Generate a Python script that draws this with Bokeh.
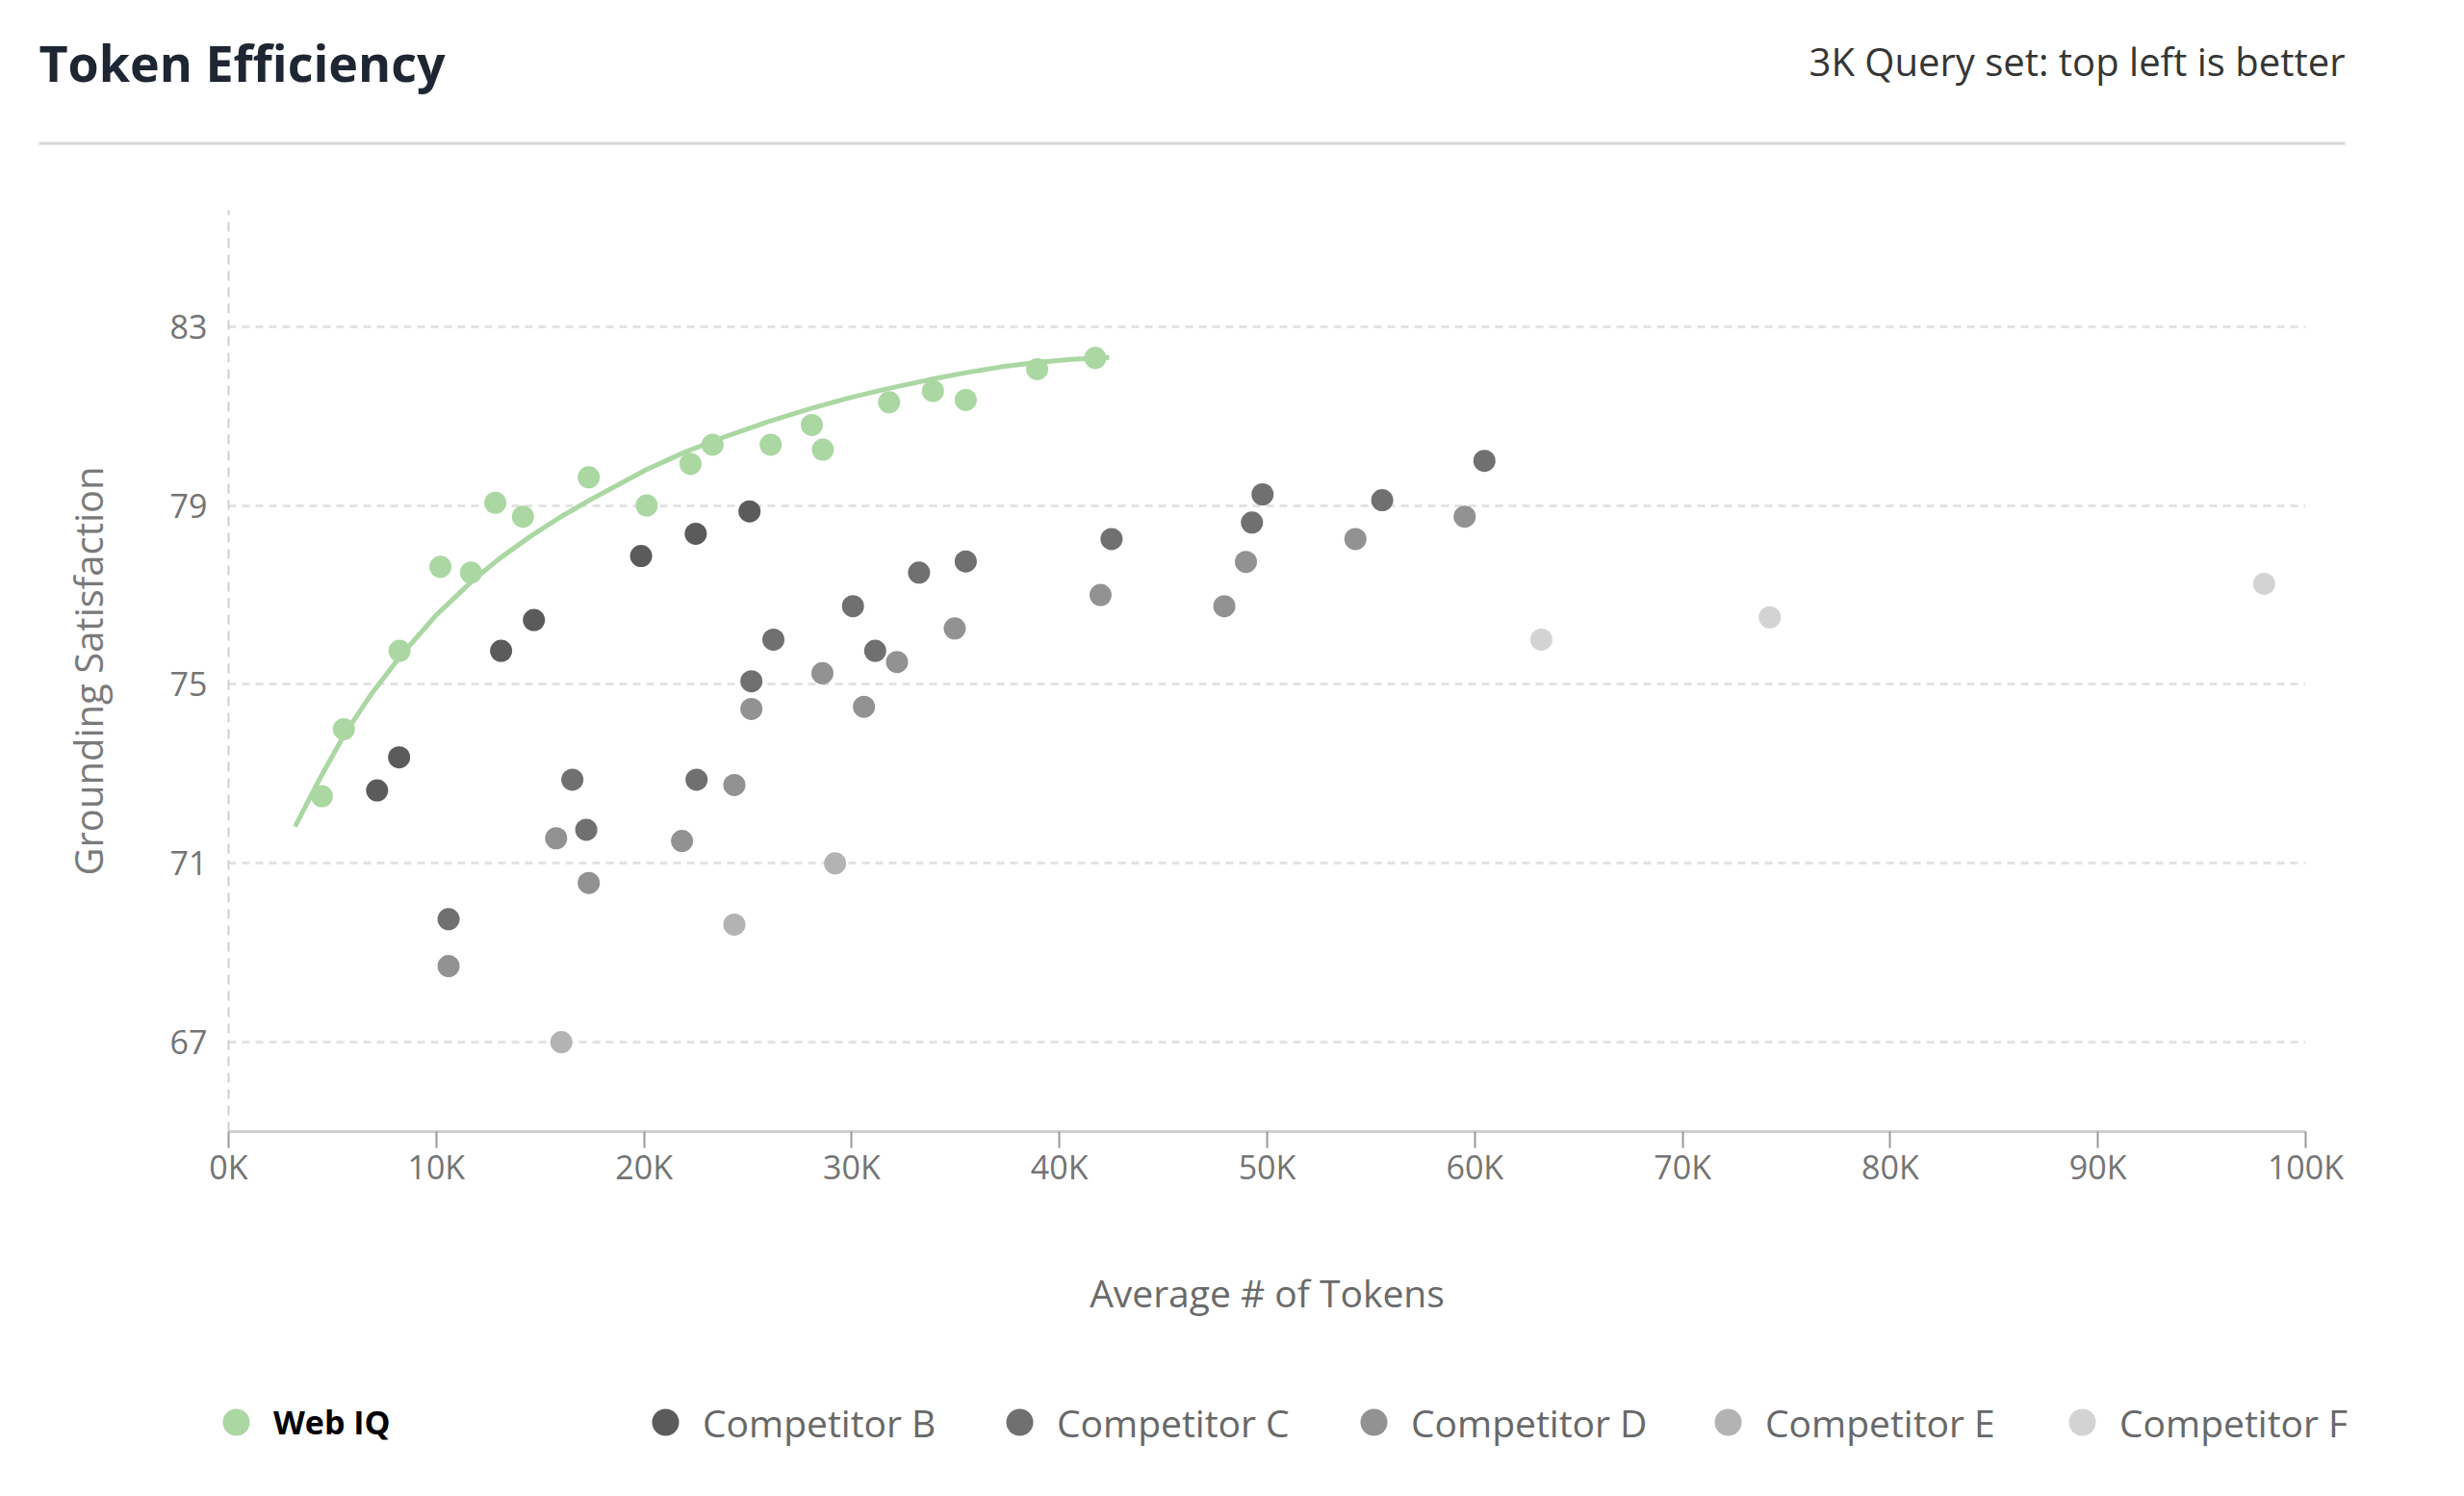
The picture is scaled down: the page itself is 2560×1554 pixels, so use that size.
from bokeh.plotting import figure
from bokeh.layouts import column
from bokeh.models import (Range1d, FixedTicker, PrintfTickFormatter, Legend,
                          LegendItem, Label, BoxAnnotation)
from bokeh.embed import file_html
from bokeh.resources import INLINE

# ---------------- data (tokens in thousands, grounding satisfaction) ----------------
webiq_tokens_k = [4.49, 5.55, 8.23, 10.2, 11.67, 12.84, 14.17, 17.34, 20.13, 22.24,
                  23.3, 26.1, 28.08, 28.61, 31.8, 33.91, 35.49, 38.93, 41.73]
webiq_score = [72.5, 74.0, 75.75, 77.63, 77.5, 79.06, 78.75, 79.63, 79.0, 79.93,
               80.36, 80.36, 80.8, 80.25, 81.31, 81.56, 81.36, 82.05, 82.3]

trend_tokens_k = [3.2, 4.4, 5.6, 6.9, 8.3, 10.0, 11.7, 13.0, 14.5, 16.0, 17.5, 20.1,
                  22.0, 23.8, 26.0, 28.1, 30.0, 31.8, 33.7, 35.5, 37.2, 38.9, 40.6, 42.4]
trend_score = [71.82, 72.9, 73.9, 74.8, 75.65, 76.55, 77.3, 77.8, 78.3, 78.75, 79.15, 79.8,
               80.2, 80.52, 80.88, 81.18, 81.42, 81.62, 81.81, 81.97, 82.1, 82.2, 82.27, 82.31]

comp_b_tokens_k = [7.15, 8.21, 13.12, 14.7, 19.86, 22.49, 25.08]
comp_b_score = [72.63, 73.37, 75.75, 76.44, 77.87, 78.37, 78.87]

comp_c_tokens_k = [10.59, 16.55, 17.22, 22.53, 25.17, 26.23, 30.06, 31.13, 33.24, 35.49,
                   42.51, 49.27, 49.78, 55.54, 60.46]
comp_c_score = [69.75, 72.87, 71.75, 72.87, 75.07, 76.0, 76.75, 75.75, 77.5, 77.75,
                78.25, 78.62, 79.25, 79.12, 80.0]

comp_d_tokens_k = [10.59, 15.77, 17.34, 21.83, 24.35, 25.17, 28.59, 30.59, 32.18, 34.96,
                   41.98, 47.94, 48.98, 54.25, 59.51]
comp_d_score = [68.7, 71.56, 70.56, 71.5, 72.75, 74.45, 75.25, 74.5, 75.5, 76.25,
                77.0, 76.75, 77.74, 78.25, 78.75]

comp_e_tokens_k = [16.02, 24.35, 29.2]
comp_e_score = [67.0, 69.63, 71.0]

comp_f_tokens_k = [63.2, 74.2, 98.0]
comp_f_score = [76.0, 76.5, 77.25]

x_ticks_k = [0, 10, 20, 30, 40, 50, 60, 70, 80, 90, 100]
y_ticks = [67, 71, 75, 79, 83]

series_labels = ["Web IQ", "Competitor B", "Competitor C", "Competitor D",
                 "Competitor E", "Competitor F"]
chart_title = "Token Efficiency"
chart_subtitle = "3K Query set: top left is better"

# ---------------- styling ----------------
FONT = "Open Sans"
GREEN = "#aad7a2"
GRAYS = ["#5b5b5b", "#707070", "#929292", "#b3b3b3", "#d3d3d3"]
W = 2500


def no_frame_align(fig):
    if "frame_align" in type(fig).properties():
        fig.frame_align = False


# ---------------- header ----------------
hdr = figure(width=W, height=180, output_backend="svg", toolbar_location=None,
             title=None, x_range=Range1d(0, W), y_range=Range1d(180, 0),
             x_axis_location=None, y_axis_location=None, min_border=0)
no_frame_align(hdr)
hdr.grid.visible = False
hdr.outline_line_color = None
hdr.add_layout(Label(x=40, y=64, text=chart_title, text_font=FONT,
                     text_font_size="52px", text_font_style="bold",
                     text_color="#1e2633", text_align="left",
                     text_baseline="alphabetic"))
hdr.add_layout(Label(x=2436, y=63, text=chart_subtitle, text_font=FONT,
                     text_font_size="40px", text_color="#363636",
                     text_align="right", text_baseline="alphabetic"))
hdr.add_layout(BoxAnnotation(left=40, right=2436, top=147, bottom=150,
                             fill_color="#d6d6d6", fill_alpha=1.0, line_color=None))

# ---------------- main plot ----------------
p = figure(width=W, height=1242, output_backend="svg", toolbar_location=None,
           title=None, x_range=Range1d(0, 100), y_range=Range1d(65, 85.6),
           min_border_left=237, min_border_right=W - 2395,
           min_border_top=38, min_border_bottom=247)
no_frame_align(p)
p.outline_line_color = None
p.background_fill_color = "white"
p.border_fill_color = "white"

p.xaxis.ticker = FixedTicker(ticks=x_ticks_k)
p.xaxis.formatter = PrintfTickFormatter(format="%dK")
p.yaxis.ticker = FixedTicker(ticks=y_ticks)

p.xaxis.axis_label = "Average # of Tokens"
p.yaxis.axis_label = "Grounding Satisfaction"
for ax in (p.xaxis, p.yaxis):
    ax.axis_label_text_font = FONT
    ax.axis_label_text_font_style = "normal"
    ax.axis_label_text_color = "#6a6a6a"
    ax.major_label_text_font = FONT
    ax.major_label_text_font_size = "34px"
    ax.major_label_text_color = "#747474"
    ax.minor_tick_line_color = None

p.xaxis.axis_label_text_font_size = "39px"
p.yaxis.axis_label_text_font_size = "40px"
p.yaxis.axis_label_text_color = "#7a7a7a"

p.xaxis.axis_line_color = "#cfcfcf"
p.xaxis.axis_line_width = 3
p.xaxis.major_tick_line_color = "#9a9a9a"
p.xaxis.major_tick_line_width = 2
p.xaxis.major_tick_in = 0
p.xaxis.major_tick_out = 17
p.xaxis.major_label_standoff = -4
p.xaxis.axis_label_standoff = 78

p.yaxis.axis_line_color = "#cfcfcf"
p.yaxis.axis_line_width = 2
p.yaxis.axis_line_dash = "10 7"
p.yaxis.major_tick_line_color = None
p.yaxis.major_label_standoff = 16
p.yaxis.axis_label_standoff = 55

p.xgrid.visible = False
p.ygrid.grid_line_color = "#e3e3e3"
p.ygrid.grid_line_width = 3
p.ygrid.grid_line_dash = "8 6"

comp_x = [comp_b_tokens_k, comp_c_tokens_k, comp_d_tokens_k, comp_e_tokens_k, comp_f_tokens_k]
comp_y = [comp_b_score, comp_c_score, comp_d_score, comp_e_score, comp_f_score]
for i in reversed(range(5)):
    p.scatter(comp_x[i], comp_y[i], size=23, fill_color=GRAYS[i], line_color=None)
p.line(trend_tokens_k, trend_score, line_color=GREEN, line_width=5)
p.scatter(webiq_tokens_k, webiq_score, size=23, fill_color=GREEN, line_color=None)

# ---------------- legend strip ----------------
lg = figure(width=W, height=110, output_backend="svg", toolbar_location=None,
            title=None, x_range=Range1d(0, W), y_range=Range1d(0, 110),
            x_axis_location=None, y_axis_location=None, min_border=0)
no_frame_align(lg)
lg.grid.visible = False
lg.outline_line_color = None
nan = float("nan")
key_web = lg.scatter(x=[nan], y=[nan], size=28, fill_color=GREEN, line_color=None)
key_comp = [lg.scatter(x=[nan], y=[nan], size=28, fill_color=c, line_color=None)
            for c in GRAYS]

common = dict(orientation="horizontal", glyph_width=70, glyph_height=70,
              label_standoff=4, label_text_font=FONT, padding=0, margin=0,
              border_line_color=None, background_fill_alpha=0)
leg_web = Legend(items=[LegendItem(label=series_labels[0], renderers=[key_web])],
                 location=(210, 20), label_text_font_size="34px",
                 label_text_font_style="bold", label_text_color="#000000", **common)
leg_comp = Legend(items=[LegendItem(label=series_labels[i + 1], renderers=[r])
                         for i, r in enumerate(key_comp)],
                  location=(656, 20), label_width=270, spacing=24,
                  label_text_font_size="39px", label_text_color="#686868", **common)
lg.add_layout(leg_web)
lg.add_layout(leg_comp)

layout = column(hdr, p, lg, spacing=0)
open("out.html", "w").write(file_html(layout, INLINE))
